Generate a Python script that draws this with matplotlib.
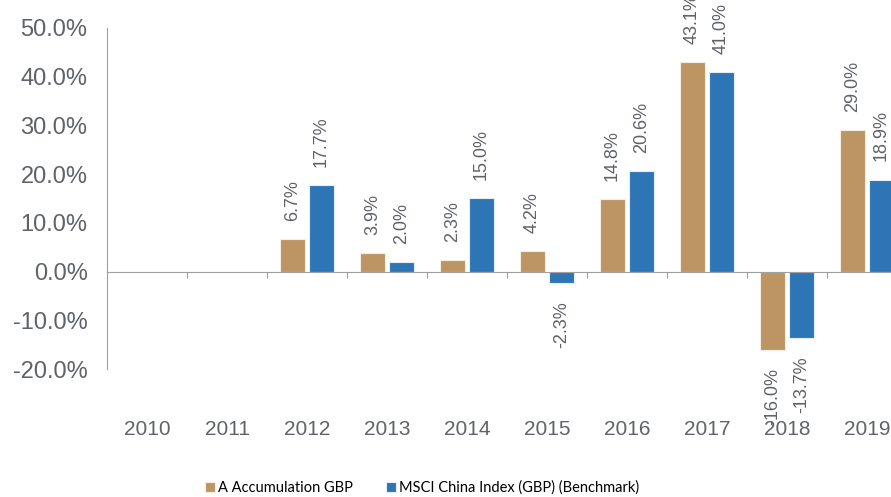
import numpy as np
import matplotlib
matplotlib.use("Agg")
import matplotlib.pyplot as plt
from matplotlib.ticker import FuncFormatter

# --- données : performances annuelles ---
years = ["2010", "2011", "2012", "2013", "2014", "2015", "2016", "2017", "2018", "2019"]
fund = [np.nan, np.nan, 6.7, 3.9, 2.3, 4.2, 14.8, 43.1, -16.0, 29.0]
bench = [np.nan, np.nan, 17.7, 2.0, 15.0, -2.3, 20.6, 41.0, -13.7, 18.9]
fund_name = "A Accumulation GBP"
bench_name = "MSCI China Index (GBP) (Benchmark)"

c_fund = "#BC9562"
c_bench = "#2E75B6"
grey_txt = "#5F6368"
grey_line = "#A0A0A0"

plt.rcParams["font.family"] = ["Liberation Sans", "DejaVu Sans"]

fig = plt.figure(figsize=(8.91, 4.97), dpi=100)
ax = fig.add_axes([107 / 891, 128 / 497, 800 / 891, 341 / 497])

x = np.arange(len(years))
w = 0.31
off = 0.18
b1 = ax.bar(x - off, fund, w, color=c_fund, edgecolor="#F3EDE3", linewidth=0.8, label=fund_name)
b2 = ax.bar(x + off, bench, w, color=c_bench, edgecolor="#E4EDF6", linewidth=0.8, label=bench_name)

# --- étiquettes de valeur verticales ---
for bars, vals in ((b1, fund), (b2, bench)):
    for rect, v in zip(bars, vals):
        if np.isnan(v):
            continue
        cx = rect.get_x() + rect.get_width() / 2
        ax.annotate(f"{v:.1f}%", (cx, v), xytext=(0, 13 if v >= 0 else -13),
                    textcoords="offset points", rotation=90, ha="center",
                    va="bottom" if v >= 0 else "top", fontsize=13,
                    color=grey_txt, annotation_clip=False)

ax.set_xlim(-0.5, len(years) - 0.5)
ax.set_ylim(-20, 50)
ax.set_yticks(np.arange(-20, 51, 10))
ax.yaxis.set_major_formatter(FuncFormatter(lambda v, p: f"{v:.1f}%"))
ax.tick_params(axis="y", length=0, pad=14, labelsize=17, labelcolor=grey_txt)

# axe x sur la ligne zéro, traits entre les années
ax.spines["bottom"].set_position(("data", 0))
ax.spines["bottom"].set_color(grey_line)
ax.spines["left"].set_color(grey_line)
ax.spines["top"].set_visible(False)
ax.spines["right"].set_visible(False)
ax.set_xticks(np.arange(0.5, len(years) - 0.5))
ax.set_xticklabels([])
ax.tick_params(axis="x", which="major", length=4, color=grey_line, direction="out")
ax.set_xticks(x, minor=True)
ax.set_xticklabels(years, minor=True)
ax.tick_params(axis="x", which="minor", length=0, pad=107, labelsize=15, labelcolor=grey_txt)

fig.legend(handles=[b1, b2], loc="center", bbox_to_anchor=(422 / 891, 1 - 488 / 497),
           ncol=2, frameon=False, handlelength=0.7, handleheight=0.7,
           handletextpad=0.2, columnspacing=2.25, prop={"family": "Lato", "size": 10.5})

fig.savefig("out.png", dpi=100)
